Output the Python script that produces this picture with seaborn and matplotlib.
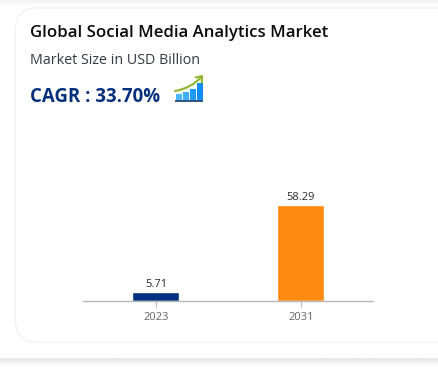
import numpy as np
import matplotlib
matplotlib.use("Agg")
import matplotlib.pyplot as plt
from matplotlib.patches import FancyBboxPatch, Rectangle, FancyArrowPatch
import seaborn as sns
import pandas as pd

years = ["2023", "2031"]
market_size = [5.71, 58.29]
bar_colors = ["#00307F", "#FF8A10"]
title = "Global Social Media Analytics Market"
subtitle = "Market Size in USD Billion"
cagr = "CAGR : 33.70%"

W, H = 438, 367
sns.set_theme(style="white")
plt.rcParams['font.family'] = ['Open Sans', 'DejaVu Sans']
fig = plt.figure(figsize=(W / 100, H / 100), dpi=100, facecolor="white")

# page background in pixel coordinates
bg = fig.add_axes([0, 0, 1, 1], zorder=0)
bg.set_xlim(0, W); bg.set_ylim(H, 0); bg.axis("off")
bg.imshow(np.linspace(0.95, 1.0, 8)[:, None], cmap="gray", vmin=0, vmax=1,
          extent=(0, W, 6, 0), aspect="auto", interpolation="bilinear")
bg.imshow(np.linspace(0.90, 1.0, 8)[:, None], cmap="gray", vmin=0, vmax=1,
          extent=(0, W, H, 358), aspect="auto", interpolation="bilinear")
bg.set_xlim(0, W); bg.set_ylim(H, 0)
bg.add_patch(FancyBboxPatch((-6, 5), W + 40, 352.5, boxstyle="round,pad=0,rounding_size=14",
                            fc="white", ec="none"))
bg.add_patch(FancyBboxPatch((15.5, 8), W + 40, 334.5, boxstyle="round,pad=0,rounding_size=22",
                            fc="white", ec="#f2f2f2", lw=1))

bg.text(30, 33, title, fontsize=12.1, fontweight="semibold", color="#0b0b0b", va="center", ha="left")
bg.text(30, 61, subtitle, fontsize=10.3, color="#333a45", va="center", ha="left")
bg.text(30, 96.5, cagr, fontsize=13.4, fontweight="bold", color="#04307c", va="center", ha="left")

# growth icon
for x, top, c in zip([176, 183, 190, 197], [94, 92, 89, 83], ["#4db8fb", "#3fb0fb", "#1d9bf8", "#0f8ff5"]):
    bg.add_patch(Rectangle((x, top), 5.5, 100 - top, fc=c, ec="none"))
bg.add_patch(Rectangle((175, 100), 28, 1.6, fc="#34567f", ec="none"))
bg.add_patch(FancyArrowPatch((175, 91), (203, 75), connectionstyle="arc3,rad=0.18",
                             arrowstyle="->,head_length=2.2,head_width=1.8", color="#8fb52a", lw=1.5,
                             shrinkA=0, shrinkB=0, mutation_scale=1.6))

# chart
x0, x1, ytop, ybase = 84, 374, 110, 301
ax = fig.add_axes([(x0 - 0.6) / W, 1 - ybase / H, (x1 - x0) / W, (ybase - ytop) / H], zorder=1)
ax.patch.set_alpha(0)
df = pd.DataFrame({"year": years, "size": market_size})
sns.barplot(data=df, x="year", y="size", hue="year", palette=bar_colors, legend=False,
            width=0.324, ax=ax, saturation=1)
ax.set_ylim(0, 58.29 * (ybase - ytop) / 96)
ax.set_xlim(-0.5, 1.5)
ax.set_xlabel(""); ax.set_ylabel("")
ax.set_yticks([])
for s in ["top", "left", "right"]:
    ax.spines[s].set_visible(False)
ax.spines["bottom"].set_color("#b8b8b8")
ax.spines["bottom"].set_linewidth(1)
ax.tick_params(axis="x", length=4, width=0.8, color="#b8b8b8", labelcolor="#666666", labelsize=8, pad=4, bottom=True)
for c in ax.containers:
    ax.bar_label(c, fmt="%.2f", fontsize=8, color="#2b2b2b", padding=1.5)

fig.savefig("out.png", dpi=100)
